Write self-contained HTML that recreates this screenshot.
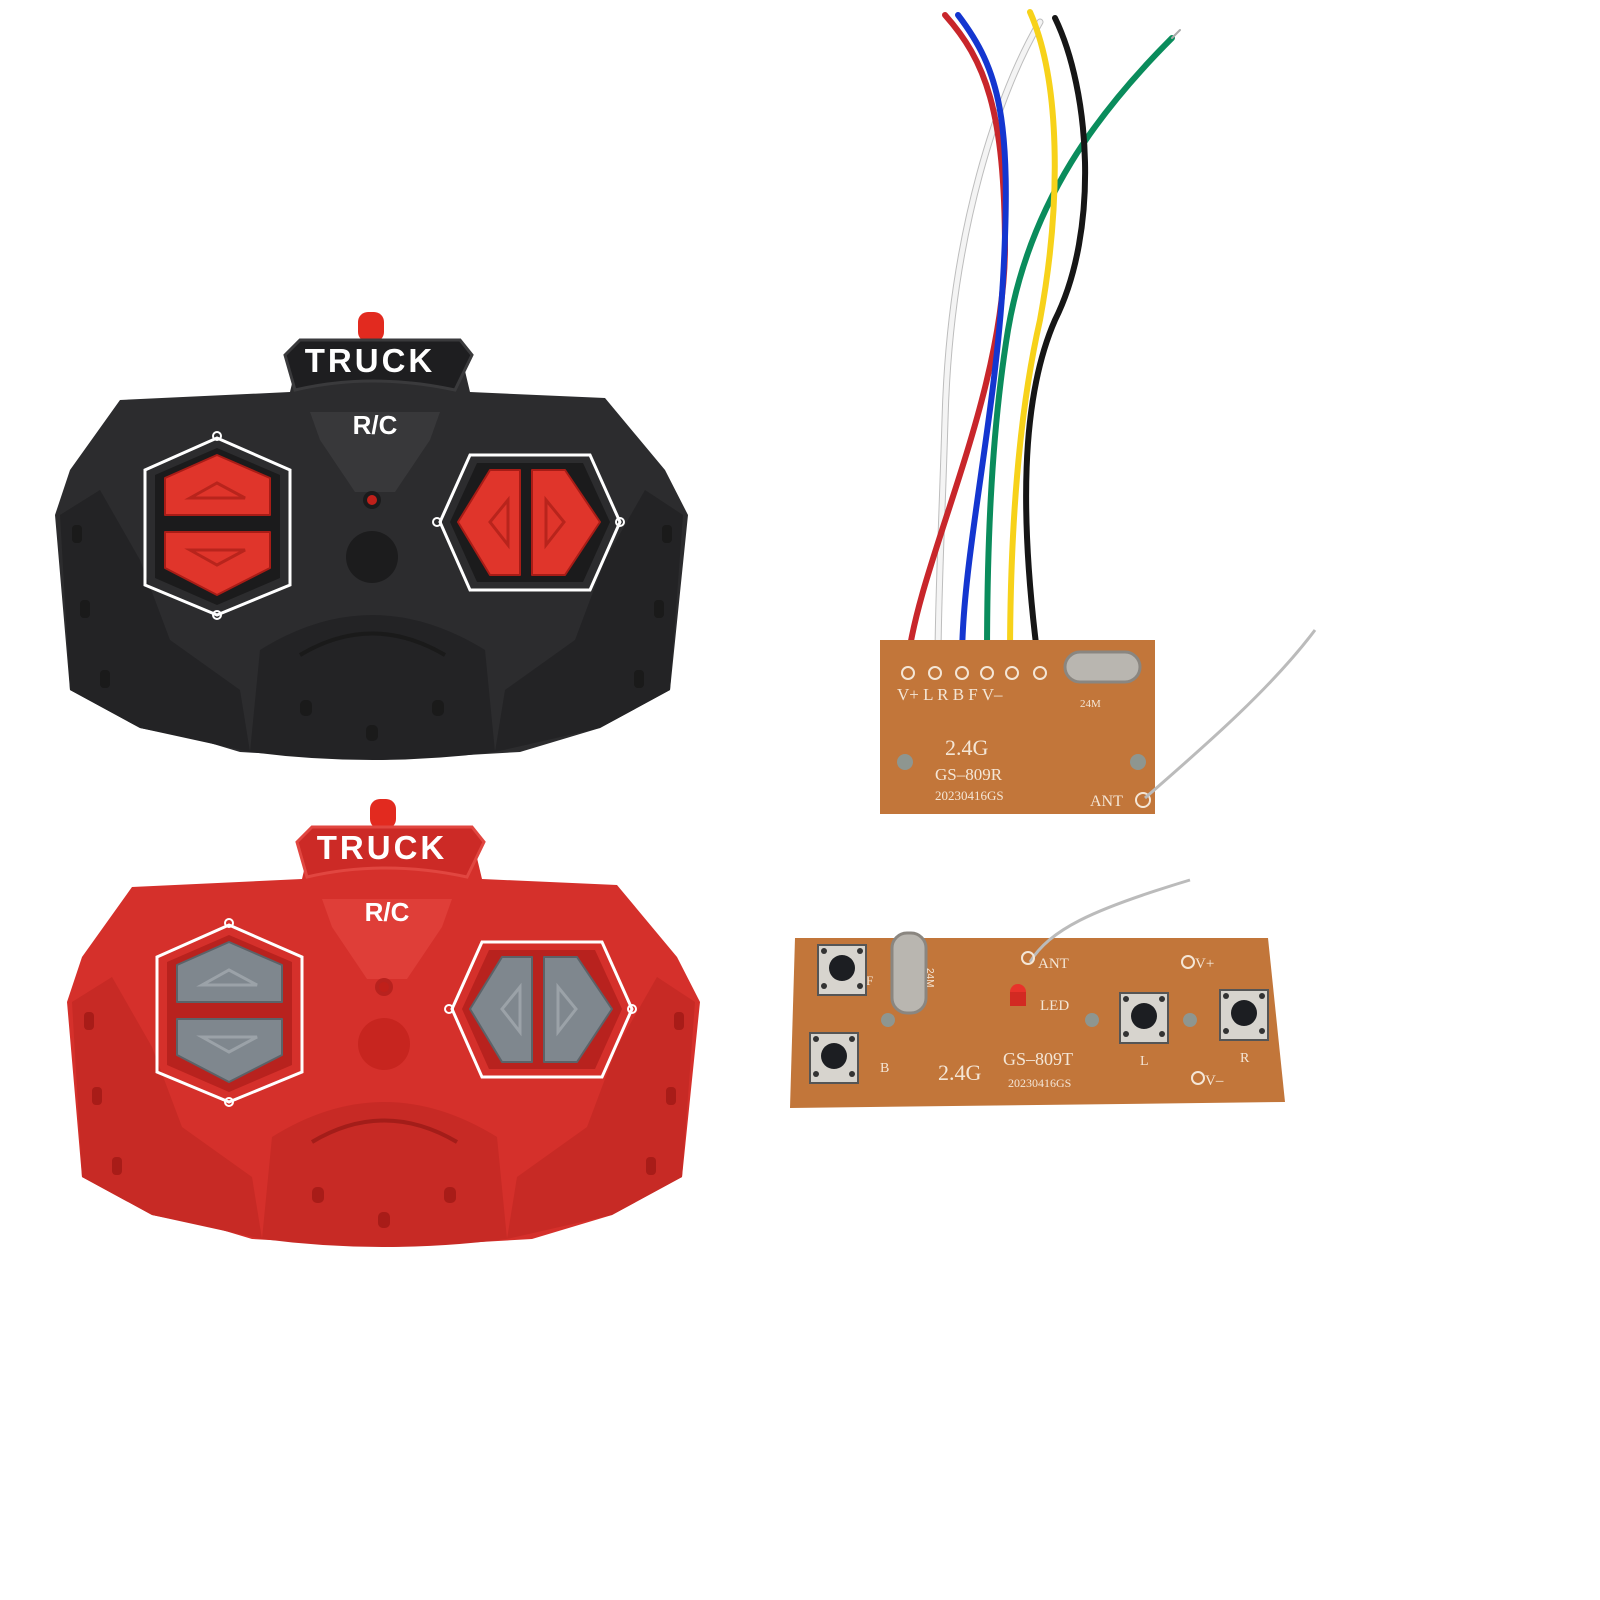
<!DOCTYPE html>
<html><head><meta charset="utf-8"><style>html,body{margin:0;padding:0;background:#fff}svg{display:block}</style></head>
<body>
<svg width="1600" height="1600" viewBox="0 0 1600 1600" xmlns="http://www.w3.org/2000/svg" font-family="Liberation Sans, sans-serif">
<rect width="1600" height="1600" fill="#fff"/>
<defs>
<g id="remote">
  <rect x="358" y="312" width="26" height="30" rx="10" fill="#e22a1f"/>
  <path style="fill:var(--body)" d="M55,515 L70,470 L120,400 L290,392 L300,350 L460,350 L470,392 L605,398 L665,470 L688,515 L670,690 L600,728 L560,740 L520,752 L380,760 L240,752 L200,740 L140,728 L70,690 Z"/>
  <path style="fill:var(--dark)" d="M60,515 L100,490 L140,560 L170,640 L240,690 L250,752 L140,728 L70,690 Z"/>
  <path style="fill:var(--dark)" d="M683,515 L645,490 L605,560 L575,640 L505,690 L495,752 L600,728 L670,690 Z"/>
  <path style="fill:var(--dark)" d="M250,752 L260,650 Q372,580 485,650 L495,752 Q372,768 250,752 Z"/>
  <path d="M300,655 Q372,612 445,655" fill="none" style="stroke:var(--line)" stroke-width="4"/>
  <path style="fill:var(--badge);stroke:var(--badgeS)" stroke-width="3" d="M285,355 L300,340 L460,340 L472,355 L455,390 Q372,372 295,390 Z"/>
  <text x="370" y="372" text-anchor="middle" font-size="33" font-weight="bold" fill="#fff" letter-spacing="3">TRUCK</text>
  <path style="fill:var(--badge2)" d="M310,412 L440,412 L430,440 L395,492 L355,492 L320,440 Z"/>
  <text x="375" y="434" text-anchor="middle" font-size="26" font-weight="bold" fill="#fff">R/C</text>
  <path d="M217,438 L290,470 L290,585 L217,615 L145,585 L145,470 Z" fill="none" stroke="#fff" stroke-width="3"/>
  <circle cx="217" cy="436" r="4" fill="none" stroke="#fff" stroke-width="2"/>
  <circle cx="217" cy="615" r="4" fill="none" stroke="#fff" stroke-width="2"/>
  <path style="fill:var(--well)" d="M217,448 L280,475 L280,578 L217,605 L155,578 L155,475 Z"/>
  <path style="fill:var(--btn);stroke:var(--btnS)" stroke-width="2" d="M217,455 L270,478 L270,515 L165,515 L165,478 Z" stroke-linejoin="round"/>
  <path style="fill:var(--btn);stroke:var(--btnS)" stroke-width="2" d="M165,532 L270,532 L270,568 L217,595 L165,568 Z" stroke-linejoin="round"/>
  <path d="M190,498 L217,483 L245,498 Z" fill="none" style="stroke:var(--arr)" stroke-width="3"/>
  <path d="M190,550 L217,565 L245,550 Z" fill="none" style="stroke:var(--arr)" stroke-width="3"/>
  <path d="M440,522 L470,455 L590,455 L620,522 L590,590 L470,590 Z" fill="none" stroke="#fff" stroke-width="3"/>
  <circle cx="437" cy="522" r="4" fill="none" stroke="#fff" stroke-width="2"/>
  <circle cx="620" cy="522" r="4" fill="none" stroke="#fff" stroke-width="2"/>
  <path style="fill:var(--well)" d="M450,522 L477,463 L583,463 L610,522 L583,582 L477,582 Z"/>
  <path style="fill:var(--btn);stroke:var(--btnS)" stroke-width="2" d="M490,470 L520,470 L520,575 L490,575 L458,522 Z" stroke-linejoin="round"/>
  <path style="fill:var(--btn);stroke:var(--btnS)" stroke-width="2" d="M532,470 L565,470 L600,522 L565,575 L532,575 Z" stroke-linejoin="round"/>
  <path d="M508,500 L490,522 L508,545 Z" fill="none" style="stroke:var(--arr)" stroke-width="3"/>
  <path d="M546,500 L564,522 L546,545 Z" fill="none" style="stroke:var(--arr)" stroke-width="3"/>
  <circle cx="372" cy="500" r="9" style="fill:var(--well)"/>
  <circle cx="372" cy="500" r="5" fill="#c0201a"/>
  <circle cx="372" cy="557" r="26" style="fill:var(--cbtn)"/>
  <g style="fill:var(--bump)">
    <rect x="72" y="525" width="10" height="18" rx="4"/><rect x="80" y="600" width="10" height="18" rx="4"/><rect x="100" y="670" width="10" height="18" rx="4"/>
    <rect x="662" y="525" width="10" height="18" rx="4"/><rect x="654" y="600" width="10" height="18" rx="4"/><rect x="634" y="670" width="10" height="18" rx="4"/>
    <rect x="300" y="700" width="12" height="16" rx="5"/><rect x="432" y="700" width="12" height="16" rx="5"/><rect x="366" y="725" width="12" height="16" rx="5"/>
  </g>
</g>
<g id="sw">
<rect x="818" y="945" width="48" height="50" fill="#d7d4ce" stroke="#555" stroke-width="2"/>
<circle cx="842" cy="968" r="13" fill="#1c1e22"/>
<g fill="#333"><circle cx="824" cy="951" r="3"/><circle cx="860" cy="951" r="3"/><circle cx="824" cy="986" r="3"/><circle cx="860" cy="986" r="3"/></g>
</g>
</defs>
<use href="#remote" style="--body:#2c2c2e;--dark:#232325;--badge:#1e1e20;--badgeS:#3a3a3c;--badge2:#38383a;--well:#1b1b1c;--btn:#e0352b;--btnS:#a81c16;--arr:#b8241c;--cbtn:#1c1c1d;--bump:#1a1a1a;--line:#1a1a1a"/>
<use href="#remote" transform="translate(12,487)" style="--body:#d5302b;--dark:#c72a25;--badge:#cc2a26;--badgeS:#e14640;--badge2:#df3e38;--well:#b8221e;--btn:#7f878e;--btnS:#5c6268;--arr:#9ba2a8;--cbtn:#c7251f;--bump:#a81c18;--line:#a31d19"/>

<g fill="none" stroke-width="6" stroke-linecap="round">
  <path d="M1040,22 C1000,90 950,230 945,420 C942,520 938,600 938,660" stroke="#bdbdbd" stroke-width="7"/>
  <path d="M1040,22 C1000,90 950,230 945,420 C942,520 938,600 938,660" stroke="#f4f4f4" stroke-width="5"/>
  <path d="M945,15 C985,60 1005,110 1005,250 C1003,400 920,560 908,660" stroke="#c8262b"/>
  <path d="M958,15 C1000,70 1012,120 1003,280 C995,420 962,560 962,660" stroke="#1436d0"/>
  <path d="M1172,38 C1100,110 1030,200 1008,330 C990,440 987,560 987,660" stroke="#0a8c5c"/>
  <path d="M1030,12 C1060,80 1062,200 1040,320 C1015,430 1010,560 1010,660" stroke="#f7d21a"/>
  <path d="M1055,18 C1090,90 1100,230 1055,320 C1020,400 1020,520 1038,660" stroke="#161616"/>
  <path d="M1172,38 L1180,30" stroke="#aaa" stroke-width="2"/>
</g>

<path d="M880,640 L1155,640 L1155,814 L880,814 Z" fill="#c2763a"/>
<g fill="none" stroke="#f4e6d6" stroke-width="2">
<circle cx="908" cy="673" r="6"/><circle cx="935" cy="673" r="6"/><circle cx="962" cy="673" r="6"/><circle cx="987" cy="673" r="6"/><circle cx="1012" cy="673" r="6"/><circle cx="1040" cy="673" r="6"/>
</g>
<g font-family="Liberation Serif, serif" fill="#f4e6d6">
<text x="897" y="700" font-size="17">V+ L  R  B  F  V–</text>
<text x="1080" y="707" font-size="11">24M</text>
<text x="945" y="755" font-size="22">2.4G</text>
<text x="935" y="780" font-size="17">GS–809R</text>
<text x="935" y="800" font-size="13">20230416GS</text>
<text x="1090" y="806" font-size="16">ANT</text>
</g>
<rect x="1065" y="652" width="75" height="30" rx="15" fill="#b9b6b0" stroke="#8a8680" stroke-width="3"/>
<circle cx="905" cy="762" r="8" fill="#8e9690"/><circle cx="1138" cy="762" r="8" fill="#8e9690"/>
<circle cx="1143" cy="800" r="7" fill="none" stroke="#f4e6d6" stroke-width="2"/>
<path d="M1145,798 C1200,750 1270,690 1315,630" fill="none" stroke="#bbb" stroke-width="3"/>

<path d="M795,938 L1268,938 L1285,1102 L790,1108 Z" fill="#c2763a"/>
<path d="M1030,962 C1050,930 1090,910 1190,880" fill="none" stroke="#bbb" stroke-width="3"/>
<g fill="#f4e6d6" font-family="Liberation Serif, serif">
<text x="1038" y="968" font-size="15">ANT</text>
<text x="1195" y="968" font-size="15">V+</text>
<text x="1040" y="1010" font-size="15">LED</text>
<text x="1205" y="1085" font-size="15">V–</text>
<text x="938" y="1080" font-size="22">2.4G</text>
<text x="1003" y="1065" font-size="18">GS–809T</text>
<text x="1008" y="1087" font-size="12">20230416GS</text>
<text x="1140" y="1065" font-size="14">L</text><text x="1240" y="1062" font-size="14">R</text>
<text x="880" y="1072" font-size="14">B</text><text x="866" y="985" font-size="13">F</text>
</g>
<g fill="none" stroke="#f4e6d6" stroke-width="2"><circle cx="1028" cy="958" r="6"/><circle cx="1188" cy="962" r="6"/><circle cx="1198" cy="1078" r="6"/></g>
<rect x="892" y="933" width="34" height="80" rx="15" fill="#b9b6b0" stroke="#8a8680" stroke-width="3"/>
<text x="930" y="975" font-size="10" fill="#f4e6d6" transform="rotate(90 932 970)">24M</text>
<circle cx="1018" cy="992" r="8" fill="#e8322a"/><rect x="1010" y="992" width="16" height="14" fill="#d22a22"/>
<g fill="#8e9690"><circle cx="888" cy="1020" r="7"/><circle cx="1092" cy="1020" r="7"/><circle cx="1190" cy="1020" r="7"/></g>
<use href="#sw"/>
<use href="#sw" transform="translate(-8,88)"/>
<use href="#sw" transform="translate(302,48)"/>
<use href="#sw" transform="translate(402,45)"/>
</svg>
</body></html>
